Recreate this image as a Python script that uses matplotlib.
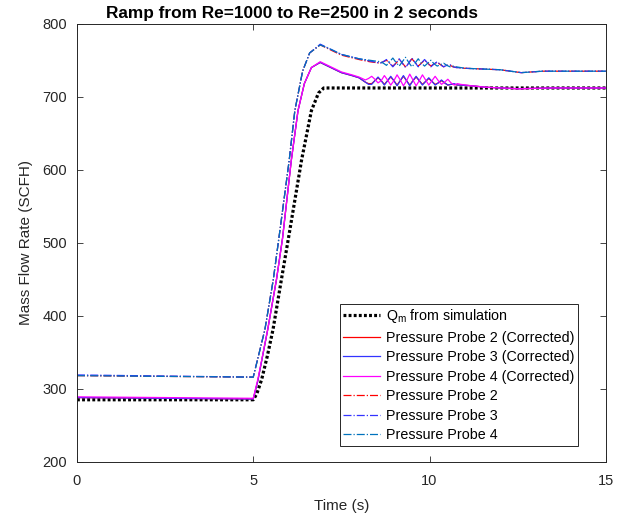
import matplotlib
matplotlib.use("Agg")
import matplotlib.pyplot as plt

# Q_m from simulation
t_sim = [0, 5.0, 5.1, 5.24, 5.4, 5.56, 5.8, 6.04, 6.37, 6.65, 6.85, 7.0, 15]
q_sim = [285, 285, 293, 313, 345, 381, 450, 518, 613, 681, 705, 712, 712]

# corrected probes (solid lines)
t_cor = [0, 5.0, 5.13, 5.41, 5.66, 5.83, 6.08, 6.27, 6.45, 6.65, 6.9, 7.2, 7.5, 7.8,
         8.0, 8.09, 8.18, 8.27, 8.36, 8.45, 8.54, 8.63, 8.72, 8.81, 8.9, 8.99, 9.08,
         9.17, 9.26, 9.35, 9.44, 9.53, 9.62, 9.71, 9.8, 9.89, 9.98, 10.07, 10.16,
         10.25, 10.34, 10.43, 10.52, 10.61, 10.7, 10.79, 10.88,
         11.2, 11.6, 12.5, 13.5, 15]
p2_cor = [288, 286, 311, 381, 450, 506, 613, 681, 718, 740, 747, 740, 733, 729,
          726, 723, 720, 718, 718, 722, 726, 722, 717, 722, 727, 722, 716, 722,
          728, 722, 716, 722, 727, 722, 717, 721, 725, 721, 717, 719, 722, 719,
          716, 717, 717, 716, 716,
          715, 713, 711, 712, 712]
p3_cor = [288, 286, 311, 381, 450, 506, 613, 681, 718, 740, 747, 740, 733, 729,
          726, 723, 720, 717, 717, 722, 727, 722, 716, 722, 728, 722, 715, 722,
          729, 722, 715, 722, 728, 722, 716, 721, 726, 721, 716, 719, 723, 719,
          716, 717, 718, 716, 716,
          715, 713, 711, 712, 712]
p4_cor = [289, 287, 313, 381, 450, 505, 613, 681, 718, 740, 748, 741, 734, 730,
          727, 725, 723, 725, 728, 724, 719, 722, 729, 723, 716, 722, 730, 723,
          715, 722, 731, 723, 715, 722, 730, 723, 716, 722, 728, 722, 717, 720,
          724, 719, 716, 718, 717,
          715, 713, 711, 712, 712]

# uncorrected probes (dash-dot lines)
t_raw = [0, 5.0, 5.33, 5.57, 5.76, 6.02, 6.18, 6.4, 6.6, 6.9, 7.2, 7.5, 8.0, 8.3,
         8.6, 8.69, 8.78, 8.87, 8.96, 9.05, 9.14, 9.23, 9.32, 9.41, 9.5, 9.59, 9.68,
         9.77, 9.86, 9.95, 10.04, 10.13, 10.22, 10.31, 10.4, 10.49, 10.58, 10.67,
         10.76, 11.0, 11.5, 12.0, 12.6, 13.2, 15]
p2_raw = [318, 316, 381, 450, 518, 613, 681, 735, 760, 771, 764, 757, 751, 748,
          746, 748, 750, 746, 742, 746, 751, 746, 741, 746, 752, 747, 742, 746,
          750, 746, 742, 745, 747, 744, 741, 743, 743, 741, 740,
          739, 738, 737, 733, 735, 735]
p3_raw = [319, 316, 381, 450, 518, 613, 681, 735, 760, 772, 765, 758, 752, 749,
          746, 748, 751, 746, 741, 746, 752, 746, 740, 746, 753, 747, 741, 746,
          751, 746, 741, 745, 748, 744, 741, 743, 744, 741, 740,
          739, 738, 737, 733, 735, 735]
p4_raw = [318, 316, 381, 450, 518, 613, 681, 735, 760, 771, 765, 758, 752, 750,
          748, 746, 743, 748, 753, 747, 742, 748, 754, 747, 741, 746, 752, 746,
          742, 746, 750, 745, 742, 744, 746, 743, 741, 742, 741,
          739, 738, 737, 733, 735, 735]

plt.rcParams['font.family'] = ['Liberation Sans', 'DejaVu Sans']
txt = '#262626'

fig = plt.figure(figsize=(6.31, 5.16), dpi=100)
ax = fig.add_axes([0.122, 0.105, 0.838, 0.849])

ax.plot(t_sim, q_sim, color='k', lw=2.3, dashes=(0.9, 0.7), label=r'Q$_\mathregular{m}$ from simulation')
ax.plot(t_cor, p2_cor, color='r', lw=0.9, label='Pressure Probe 2 (Corrected)')
ax.plot(t_cor, p3_cor, color='#3333ff', lw=0.9, label='Pressure Probe 3 (Corrected)')
ax.plot(t_cor, p4_cor, color='#ff00ff', lw=0.9, label='Pressure Probe 4 (Corrected)')
ax.plot(t_raw, p2_raw, color='r', lw=0.9, linestyle='-.', label='Pressure Probe 2')
ax.plot(t_raw, p3_raw, color='#3333ff', lw=0.9, linestyle='-.', label='Pressure Probe 3')
ax.plot(t_raw, p4_raw, color='#0072bd', lw=0.9, linestyle='-.', label='Pressure Probe 4')

ax.set_xlim(0, 15)
ax.set_ylim(200, 800)
ax.set_xticks([0, 5, 10, 15])
ax.set_yticks(range(200, 801, 100))
ax.tick_params(direction='in', length=4, width=0.6, colors=txt, labelsize=10.5,
               top=True, right=True, labeltop=False, labelright=False)
ax.tick_params(axis='x', pad=9)
ax.tick_params(axis='y', pad=7)
for s in ax.spines.values():
    s.set_color(txt)
    s.set_linewidth(0.7)

ax.set_xlabel('Time (s)', fontsize=11, color=txt, labelpad=8)
ax.set_ylabel('Mass Flow Rate (SCFH)', fontsize=11, color=txt, labelpad=7)
ax.set_title('Ramp from Re=1000 to Re=2500 in 2 seconds', fontsize=12.4, fontweight='bold',
             x=0.406, pad=4)

leg = ax.legend(loc='lower right', bbox_to_anchor=(0.948, 0.037), borderaxespad=0,
                fontsize=10.3, frameon=True, fancybox=False, framealpha=1, edgecolor=txt,
                handlelength=2.6, borderpad=0.25, labelspacing=0.38, handletextpad=0.4)
leg.get_frame().set_linewidth(0.7)

fig.savefig('out.png', dpi=100)
